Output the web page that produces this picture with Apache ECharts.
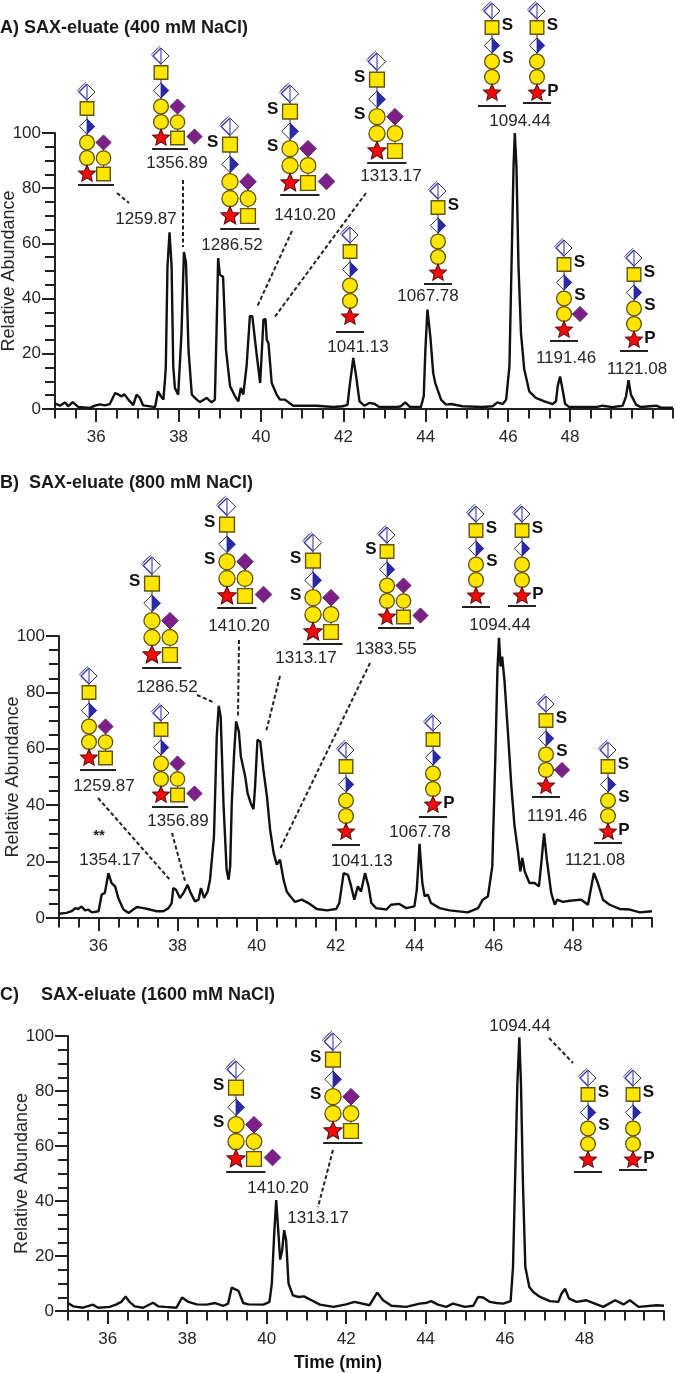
<!DOCTYPE html>
<html><head><meta charset="utf-8"><style>html,body{margin:0;padding:0;background:#fff}#c{width:676px;height:1373px}</style>
<script src="https://cdn.jsdelivr.net/npm/echarts@6/dist/echarts.min.js"></script></head>
<body><div id="c"></div><script>
// ---- data: [time (min), relative abundance]
const traceA=[[35,2],[35.12,1.2],[35.24,2.4],[35.32,1],[35.43,2.5],[35.57,.7],[35.85,.4],[35.97,1.2],[36.09,1.7],[36.21,1.3],[36.33,1.8],[36.46,5.8],[36.54,5.2],[36.62,4.6],[36.68,5.4],[36.78,3.4],[36.9,1.4],[36.98,5.2],[37.06,4],[37.14,1.3],[37.43,.7],[37.5,6.4],[37.57,4.6],[37.63,3.4],[37.67,10.6],[37.69,15.5],[37.73,51.7],[37.78,64],[37.83,51.7],[37.87,15.5],[37.91,7.6],[37.99,5.2],[38.03,5.8],[38.07,27.5],[38.13,56.9],[38.18,52.9],[38.24,21.5],[38.32,5.2],[38.44,3.4],[38.52,2.5],[38.68,4],[38.8,2.4],[38.88,3.4],[38.92,27.5],[38.96,54.7],[39,48.7],[39.08,47.8],[39.15,21.5],[39.25,8.2],[39.37,4.6],[39.45,2.8],[39.51,7.6],[39.57,5.2],[39.65,15.5],[39.73,33.6],[39.79,33.6],[39.89,20.3],[39.98,9.4],[40.02,9.4],[40.06,32.4],[40.11,32.6],[40.14,25],[40.18,24],[40.26,9.4],[40.38,5.2],[40.46,3.4],[40.58,3.4],[40.78,1.2],[40.95,1.2],[41.35,1.2],[41.76,.7],[41.98,1],[42.1,1.5],[42.16,9.4],[42.24,18.5],[42.31,11.8],[42.39,2.8],[42.51,1.2],[42.63,2.2],[42.75,1.9],[42.87,.7],[43.28,.7],[43.4,1],[43.5,2.4],[43.62,.7],[43.88,.7],[43.95,4.6],[43.99,21.5],[44.04,36],[44.11,26.3],[44.18,13],[44.23,9.4],[44.27,9.7],[44.37,3.4],[44.49,1.6],[44.61,1.8],[44.89,1],[45.38,.7],[45.62,1],[45.74,2.4],[45.87,1.8],[45.95,3.4],[46.03,15.5],[46.08,51.7],[46.13,88],[46.16,100],[46.2,88],[46.25,51.7],[46.31,27.5],[46.39,14.3],[46.43,11.8],[46.51,6.4],[46.67,4],[46.88,2.8],[47.08,1.8],[47.16,2.8],[47.2,8.2],[47.26,11.8],[47.32,7],[47.38,1.9],[47.48,.7],[48.13,.7],[48.29,1.2],[48.53,.7],[48.78,1.2],[48.86,4.6],[48.92,10.4],[48.98,5.2],[49.1,1.6],[49.22,.7],[49.59,1.2],[49.71,.5],[50,.5]];
const traceB=[[35,1.5],[35.19,1.8],[35.32,2.4],[35.41,3.5],[35.49,3.2],[35.57,4.1],[35.66,2.7],[35.74,3],[35.83,2],[36,2.4],[36.08,8.3],[36.16,8.9],[36.25,15.9],[36.33,12.4],[36.42,11.2],[36.5,7.1],[36.63,3],[36.76,1.8],[36.88,3],[36.97,3.9],[37.14,3.5],[37.3,3],[37.47,2.4],[37.64,2.4],[37.77,3.5],[37.85,5.3],[37.89,10.6],[37.96,10],[38.06,7.1],[38.15,8.9],[38.25,11.8],[38.33,8.9],[38.44,5.9],[38.53,6.5],[38.59,10.6],[38.67,7.1],[38.76,9.4],[38.82,13.6],[38.86,14.2],[38.92,28.9],[38.99,64.3],[39.04,75.2],[39.09,71.4],[39.16,40.7],[39.24,17.1],[39.29,13.6],[39.33,18.3],[39.37,40.7],[39.43,58.4],[39.48,69.7],[39.55,66.1],[39.6,57.3],[39.71,50.2],[39.77,44.3],[39.85,40.7],[39.92,38.6],[39.96,46.6],[40.02,63.2],[40.09,62.6],[40.17,52.5],[40.26,43.1],[40.34,31.3],[40.43,23],[40.51,18.9],[40.59,20.7],[40.68,13.6],[40.76,9.4],[40.85,7.7],[40.97,5.7],[41.14,6.5],[41.31,5.3],[41.52,3.2],[41.78,2.7],[42.01,3.2],[42.09,5.3],[42.2,15.9],[42.31,15.3],[42.39,11.2],[42.47,6.5],[42.56,11.2],[42.64,9.4],[42.74,15.9],[42.83,11.2],[42.9,5.3],[43.02,3.5],[43.28,3],[43.4,4.7],[43.61,5],[43.78,3.5],[43.99,4.1],[44.05,10],[44.12,26.3],[44.19,12.4],[44.25,7.7],[44.33,8.3],[44.41,5.3],[44.63,3.5],[44.88,2.7],[45.34,2],[45.6,3.5],[45.72,6.5],[45.85,7.7],[45.96,18.3],[46.04,58.4],[46.09,87.9],[46.13,99.4],[46.17,89.2],[46.21,92.7],[46.27,83.9],[46.36,64.9],[46.44,47.2],[46.52,33],[46.61,23.6],[46.67,16.5],[46.72,21.3],[46.78,16.5],[46.9,12.4],[47.03,12.4],[47.14,11.2],[47.2,19.5],[47.27,30],[47.34,20.7],[47.45,8.9],[47.54,4.7],[47.6,6.5],[47.75,5.7],[47.92,6.1],[48.21,6.5],[48.38,4.7],[48.53,16],[48.63,12.4],[48.76,6.5],[48.93,4.7],[49.18,3.2],[49.44,3],[49.69,2],[50,2.4]];
const traceC=[[35,2.9],[35.13,1.7],[35.38,1.2],[35.63,2.3],[35.76,1.2],[36.05,1.5],[36.22,2.4],[36.34,3.3],[36.45,5.3],[36.55,3.3],[36.68,1.7],[36.89,1.2],[37.14,3],[37.27,1.7],[37.44,1.5],[37.73,1.2],[37.87,4.9],[38.03,3.3],[38.24,2.4],[38.49,2.3],[38.7,2.9],[38.91,1.9],[39.03,2.7],[39.12,8.5],[39.29,7.3],[39.41,2.9],[39.54,2.4],[39.92,2.3],[40.07,3.3],[40.13,10],[40.19,28.2],[40.24,40.3],[40.28,31.8],[40.34,18.7],[40.39,22],[40.44,29.4],[40.49,25.7],[40.55,10],[40.66,5.7],[40.8,5.1],[40.94,5.3],[41.13,3.9],[41.34,2.3],[41.68,1.5],[42,2.4],[42.21,3.3],[42.59,2.1],[42.78,6.7],[42.93,3.9],[43.14,1.9],[43.51,1.5],[43.85,2.7],[44,2.9],[44.14,3.6],[44.31,2.3],[44.52,1.5],[44.69,2.7],[44.99,1.5],[45.2,1.9],[45.32,5.1],[45.45,4.9],[45.62,3.3],[45.78,2.9],[45.95,2.7],[46.14,3.6],[46.2,16],[46.26,52.4],[46.31,82.8],[46.36,99.5],[46.4,82.8],[46.45,46.4],[46.51,16],[46.61,8.7],[46.71,6.9],[46.88,5.1],[47.13,3.6],[47.34,3.3],[47.42,6.3],[47.51,8.1],[47.61,4.5],[47.8,3.3],[48.05,3.9],[48.26,2.7],[48.47,1.5],[48.77,3.9],[48.98,2.4],[49.14,3.9],[49.36,1.5],[49.82,2.1],[50,1.9]];
const xTicksStandard=[36,38,40,42,44,46,48];
const xTicksPanelA=[36,38,40,42,44,46,47.5];   // the reference prints "48" under the 47.5 tick
const xTickTextPanelA=['36','38','40','42','44','46','48'];
const panelTitles=['A) SAX-eluate (400 mM NaCl)','B)  SAX-eluate (800 mM NaCl)','C)','SAX-eluate (1600 mM NaCl)'];
const yAxisName='Relative Abundance';
const xAxisName='Time (min)';
const massLabelsA=['1259.87','1356.89','1286.52','1410.20','1313.17','1041.13','1067.78','1094.44','1191.46','1121.08'];
const massLabelsB=['1354.17','1259.87','1356.89','1286.52','1410.20','1313.17','1383.55','1041.13','1067.78','1094.44','1191.46','1121.08'];
const massLabelsC=['1410.20','1313.17','1094.44'];

// ---- layout of annotations (pixels)
const FONT='"Liberation Sans",Arial,sans-serif', INK='#262626';
const massPosA=[[146,219],[177,163],[232,245],[305,215],[391,176],[358,347],[428,296],[520,121],[566,358],[637,369]];
const massPosB=[[110,860],[104,786],[178,821],[167,687],[239,626],[306,658],[386,649],[362,861],[420,832],[500,625],[557,816],[595,860]];
const massPosC=[[278,1188],[318,1218],[520,1026]];
// glycan: star x, star y, scale, flags, underline y
// flags: c second arm, t terminal diamond, d diamond on lower circle, L/l S left of square/circle, R/r S right of square/circle, P phosphate
const glycans=[
 [87,174,1,'c',185],[161,138,1,'ct',149],[230,216,1.09,'cL',229],[290,183,1.09,'ctLl',195],[377,151,1.09,'cLl',163],
 [350,317,1,'',332],[438,273,1,'R',284],[492,93,1,'Rr',106],[537,93,1,'RP',103],[564,330,1,'dRr',341],[634,340,1,'RrP',351],
 [89,758,1,'c',770],[152,655,1.09,'cL',668],[161,795,1,'ct',807],[227,596,1.09,'ctLl',608],[313,632,1.09,'cLl',644],[387,617,1,'ctL',628],
 [346,832,1,'',845],[433,805,1,'P',817],[476,596,1,'Rr',607],[522,596,1,'RP',606],[546,786,1,'dRr',797],[608,832,1,'RrP',843],
 [236,1159,1.09,'ctLl',1172],[333,1131,1.09,'cLl',1143],[588,1160,1,'Rr',1172],[633,1160,1,'RP',1170]
];
const leaders=[
 [117,193,129,203],[183,180,183,247],[292,231,257,307],[366,193,274,318],
 [98,798,171,881],[172,833,185,881],[197,695,215,703],[239,640,238,717],[280,676,266,732],[370,663,280,849],
 [549,1038,573,1063],[333,1150,318,1207]
];

// ---- glyph helpers
const E=[];
const Y='#ffe500',YS='#5f5410',PUR='#7c1f88',BLU='#2a2aa5',RED='#f50a0a',OUT='#33302a';
function circ(x,y,r){E.push({type:'circle',shape:{cx:x,cy:y,r},style:{fill:Y,stroke:YS,lineWidth:1.3},silent:true});}
function sq(x,y,h){E.push({type:'rect',shape:{x:x-h,y:y-h,width:2*h,height:2*h},style:{fill:Y,stroke:YS,lineWidth:1.4},silent:true});}
function dia(x,y,h,fill,stroke){E.push({type:'polygon',shape:{points:[[x,y-h],[x+h,y],[x,y+h],[x-h,y]]},style:{fill,stroke,lineWidth:1},silent:true});}
function star(x,y,R){const p=[];for(let i=0;i<10;i++){const r=i%2?R*.46:R,a=-Math.PI/2+i*Math.PI/5;p.push([x+r*Math.cos(a),y+r*Math.sin(a)]);}
 E.push({type:'polygon',shape:{points:p},style:{fill:RED,stroke:'#5a1010',lineWidth:1.1},silent:true});}
function seg(x1,y1,x2,y2,stroke,lw,dash){E.push({type:'line',shape:{x1,y1,x2,y2},style:{stroke,lineWidth:lw,lineDash:dash||null},silent:true});}
function halfDia(x,y,h){dia(x,y,h,'#fff',OUT);E.push({type:'polygon',shape:{points:[[x,y-h],[x+h,y],[x,y+h]]},style:{fill:BLU,stroke:BLU,lineWidth:.8},silent:true});}
function topDia(x,y,h){
 dia(x,y,h,'#fff',OUT);
 E.push({type:'polyline',shape:{points:[[x,y-h],[x-h,y],[x,y+h]]},style:{stroke:'#3a3ab0',lineWidth:1.4,fill:null},silent:true});
 seg(x,y-h,x,y+h,'#4a4ab5',1.2);
 seg(x-h*.35,y-h*1.05,x-h*1.05,y-h*.35,'#4a4ab5',1);
 seg(x-h*.1,y-h*1.25,x-h*1.25,y-h*.1,'#5a5a70',1);
}
function txt(x,y,text,size,bold,color){E.push({type:'text',silent:true,x,y,style:{x:0,y:0,text,fill:color||INK,font:(bold?'bold ':'')+size+'px '+FONT,textAlign:'center',textVerticalAlign:'middle'}});}
function glycan([x,y,s,f,ly]){
 const has=c=>f.includes(c),K=s,ink='#111';
 const o={c1:-16*K,c2:-31.5*K,h:-47.5*K,q:-65.5*K,t:-82*K};
 seg(x,y,x,y+o.t,OUT,1);
 if(has('c')){seg(x+16.5*K,y,x+16.5*K,y+o.c2,OUT,1);}
 if(has('d')){seg(x,y+o.c1,x+16*K,y+o.c1,OUT,1);}
 topDia(x,y+o.t,8*K);sq(x,y+o.q,6.8*K);halfDia(x,y+o.h,7.6*K);
 circ(x,y+o.c2,7.4*K);circ(x,y+o.c1,7.4*K);star(x,y,8.8*K);
 if(has('c')){const a=x+16.5*K;dia(a,y+o.c2,7.6*K,PUR,'#5a2a60');circ(a,y+o.c1,7.2*K);sq(a,y,6.8*K);}
 if(has('t')){dia(x+33.5*K,y-1.5,7.6*K,PUR,'#5a2a60');}
 if(has('d')){dia(x+16*K,y+o.c1,7.6*K,PUR,'#5a2a60');}
 if(has('L'))txt(x-16*K,y+o.q-2,'S',17,true,ink);
 if(has('l'))txt(x-16*K,y+o.c2-2,'S',17,true,ink);
 if(has('R'))txt(x+15.5,y+o.q-2,'S',17,true,ink);
 if(has('r'))txt(x+16,y+o.c2-3,'S',17,true,ink);
 if(has('P'))txt(x+16,y-2,'P',17,true,ink);
 const a=has('c')?x-9*K:x-14,b=has('c')?x+27*K:x+14;
 seg(a,ly,b,ly,'#222',2);
}
leaders.forEach(l=>seg(l[0],l[1],l[2],l[3],'#222',2,[4,2.5]));
glycans.forEach(glycan);
[[massLabelsA,massPosA],[massLabelsB,massPosB],[massLabelsC,massPosC]].forEach(([t,p])=>t.forEach((s,i)=>txt(p[i][0],p[i][1],s,17,false)));
txt(99,836,'**',15,true,'#222');
txt(338,1363,xAxisName,17.5,true,'#111');

// ---- chart
const grids=[{left:55,top:133,width:618,height:276,outerBoundsMode:'none'},{left:59,top:636,width:593,height:282,outerBoundsMode:'none'},{left:68,top:1036,width:596,height:275,outerBoundsMode:'none'}];
const axisLine={show:true,lineStyle:{color:'#222',width:2}};
const xAxis=[],yAxis=[],series=[];
[traceA,traceB,traceC].forEach((d,i)=>{
 const ticks=i===0?xTicksPanelA:xTicksStandard;
 xAxis.push({type:'value',gridIndex:i,position:'bottom',min:35,max:50,interval:.5,splitLine:{show:false},axisLine,
   axisTick:{show:true,length:13,customValues:ticks,lineStyle:{color:'#222',width:2}},
   axisLabel:{show:true,margin:20,customValues:ticks,color:INK,fontSize:17,fontFamily:FONT,
     formatter:v=>i===0?xTickTextPanelA[xTicksPanelA.indexOf(v)]:String(v)}});
 xAxis.push({type:'value',gridIndex:i,position:'bottom',min:35,max:50,interval:.5,splitLine:{show:false},axisLine:{show:false},
   axisTick:{show:true,length:9.5,lineStyle:{color:'#222',width:2}},axisLabel:{show:false}});
 yAxis.push({type:'value',gridIndex:i,min:0,max:100,interval:20,splitLine:{show:false},axisLine,
   axisTick:{show:true,length:13,lineStyle:{color:'#222',width:2}},
   minorTick:{show:true,splitNumber:4,length:10,lineStyle:{color:'#222',width:2}},
   axisLabel:{margin:14,color:INK,fontSize:17,fontFamily:FONT},
   name:yAxisName,nameLocation:'middle',nameGap:37,nameMoveOverlap:false,nameTextStyle:{color:INK,fontSize:18,fontFamily:FONT}});
 series.push({type:'line',xAxisIndex:i*2,yAxisIndex:i,data:d,showSymbol:false,symbol:'none',animation:false,
   lineStyle:{color:'#111',width:2.4},z:5});
});
const tstyle={color:'#1a1a1a',fontSize:18,fontWeight:'bold',fontFamily:FONT};
const title=[[0,19,0],[0,474,1],[0,986,2],[41,986,3]].map(([l,t,k])=>({text:panelTitles[k],left:l,top:t,padding:0,textStyle:tstyle}));
const chart=echarts.init(document.getElementById('c'),null,{renderer:'canvas'});
chart.setOption({animation:false,backgroundColor:'#fff',title,grid:grids,xAxis,yAxis,series,graphic:{elements:E}});
</script></body></html>
